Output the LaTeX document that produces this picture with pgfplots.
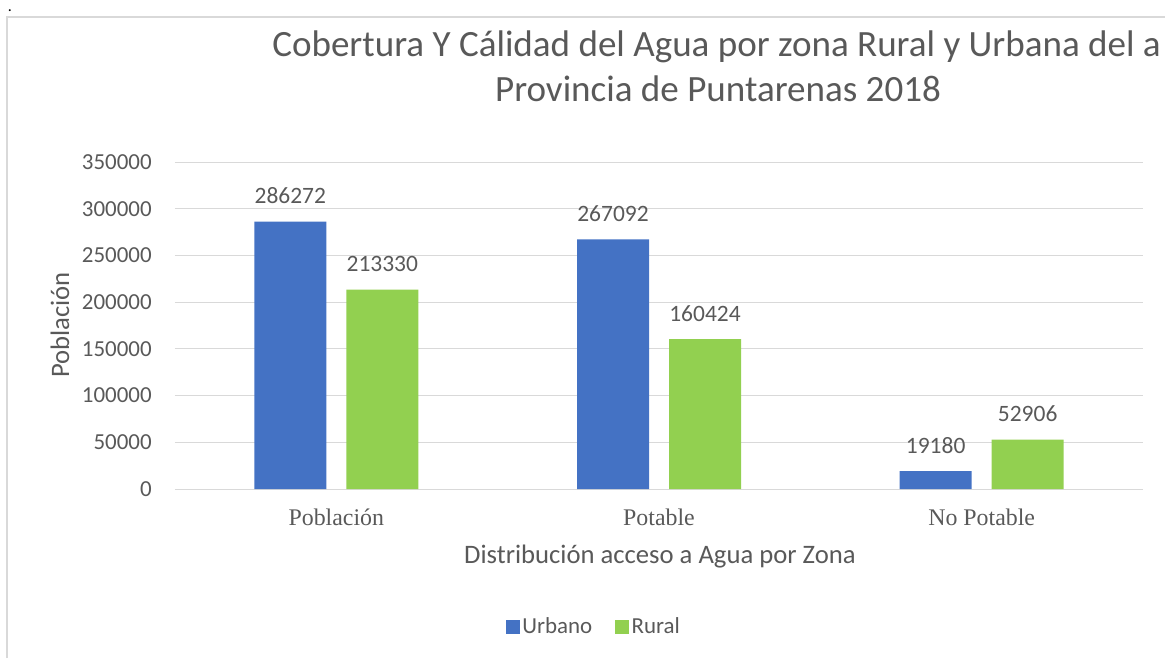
\documentclass[border=0pt]{standalone}
\usepackage{fontspec}
\setmainfont{Carlito}
\newfontfamily\timesf{Liberation Serif}
\usepackage{pgfplots}
\pgfplotsset{compat=1.18}
\definecolor{cblue}{HTML}{4472C4}
\definecolor{cgreen}{HTML}{92D050}
\definecolor{ctext}{HTML}{595959}
\definecolor{cgrid}{HTML}{D9D9D9}
\begin{document}
\begin{tikzpicture}
\useasboundingbox (0pt,0pt) rectangle (873.75pt,493.5pt);
\draw[cgrid, line width=1.2pt] (5.25pt,0pt) -- (5.25pt,480.75pt) -- (873.75pt,480.75pt);
\node[anchor=base, inner sep=0pt, font=\fontsize{12}{14}\selectfont] at (7.5pt,484.5pt) {.};
\begin{scope}
\clip (0pt,0pt) rectangle (873.75pt,493.5pt);
\node[anchor=base west, inner sep=0pt, text=ctext, font=\fontsize{27.8}{32}\selectfont] at (204pt,450.75pt) {Cobertura Y Cálidad del Agua por zona Rural y Urbana del a};
\end{scope}
\node[anchor=base, inner sep=0pt, text=ctext, font=\fontsize{27.8}{32}\selectfont] at (538.5pt,417pt) {Provincia de Puntarenas 2018};
\begin{axis}[
  at={(131.25pt,126.75pt)}, anchor=south west, scale only axis,
  width=726pt, height=245.25pt,
  xmin=-0.5, xmax=2.5, ymin=0, ymax=350000,
  ybar=15pt, bar width=54pt,
  xtick={0,1,2}, xticklabels={Población,Potable,No Potable},
  ytick={0,50000,...,350000},
  scaled y ticks=false,
  /pgf/number format/.cd, fixed, 1000 sep={}, assume math mode=true, /pgfplots/.cd,
  ymajorgrids, grid style={cgrid, line width=0.75pt},
  axis line style={draw=none}, major tick length=0pt, tick style={draw=none},
  yticklabel style={text=ctext, font=\fontsize{17.2}{20}\selectfont, anchor=east, inner sep=0pt, xshift=-17.25pt},
  xticklabel style={text=ctext, font=\timesf\fontsize{17.9}{20}\selectfont, anchor=base, inner sep=0pt, yshift=-27pt},
  xlabel={Distribución acceso a Agua por Zona},
  xlabel style={at={(axis description cs:0.501,-0.205)}, anchor=center, text=ctext, font=\fontsize{20}{24}\selectfont, inner sep=0pt},
  ylabel={Población},
  ylabel style={at={(axis description cs:-0.1188,0.5015)}, anchor=center, text=ctext, font=\fontsize{20}{24}\selectfont, inner sep=0pt},
  nodes near coords={\pgfmathprintnumber[fixed,precision=0,1000 sep={},assume math mode=true]{\pgfplotspointmeta}},
  nodes near coords style={text=ctext, font=\fontsize{17.6}{20}\selectfont, anchor=south, inner sep=0pt, yshift=13pt},
  legend columns=2,
  legend style={at={(0.433,-0.422)}, anchor=center, draw=none, fill=none, text=ctext, font=\fontsize{17.2}{20}\selectfont, /tikz/every even column/.append style={column sep=15pt}, inner sep=0pt},
  legend image code/.code={\fill[#1] (0pt,-5.25pt) rectangle (10.5pt,5.25pt);},
]
\addplot[fill=cblue, draw=none] coordinates {(0,286272) (1,267092) (2,19180)};
\addplot[fill=cgreen, draw=none] coordinates {(0,213330) (1,160424) (2,52906)};
\legend{Urbano,Rural}
\end{axis}
\end{tikzpicture}
\end{document}
